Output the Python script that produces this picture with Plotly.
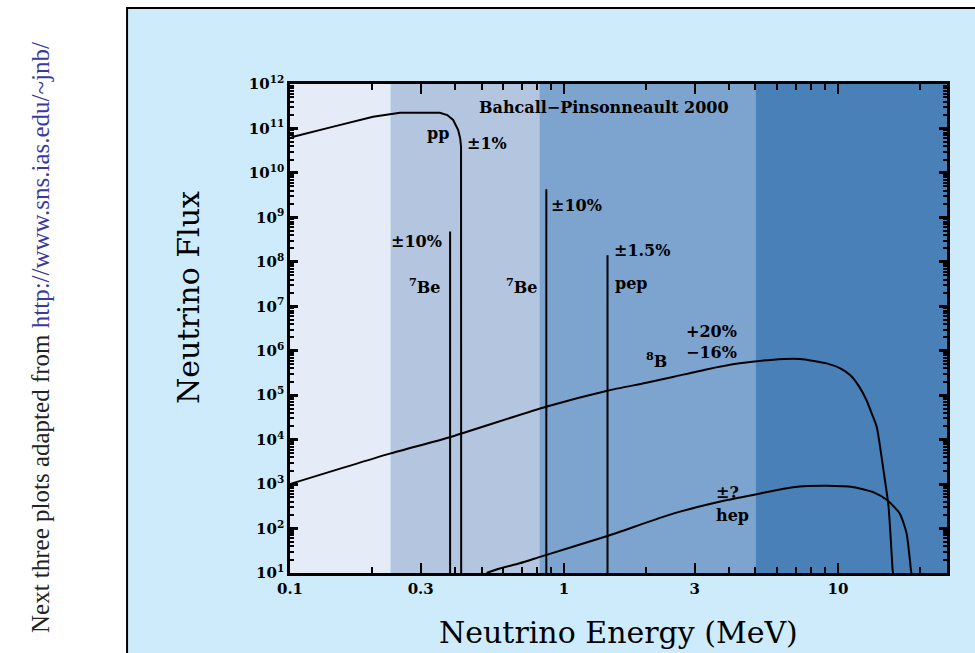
import plotly.graph_objects as go

# ---------------- data ----------------
# detector threshold regions (MeV): Ga, Cl, Super-K
region_edges = [0.1, 0.233, 0.814, 5.0, 25.0]
region_colors = ["#E5ECF7", "#B3C5DF", "#7CA4CF", "#4A80B8"]

# pp continuum
pp_E = [0.1, 0.1028, 0.144, 0.201, 0.252, 0.30, 0.352, 0.375, 0.394, 0.411, 0.418, 0.421, 0.4215]
pp_F = [6.0e10, 6.5e10, 1.10e11, 1.84e11, 2.26e11, 2.30e11, 2.26e11, 2.0e11, 1.55e11, 9.2e10, 6.0e10, 3.9e10, 10]

# 7Be lines (0.384 and 0.862 MeV)
be7_E = [0.384, 0.862]
be7_F = [4.8e8, 4.3e9]

# pep line
pep_E = [1.442]
pep_F = [1.4e8]

# 8B continuum
b8_E = [0.1, 0.233, 0.38, 0.86, 1.44, 2.0, 2.52, 3.31, 4.38, 5.8, 7.26, 9.1, 10.2, 11.1, 12.0, 12.7, 13.3, 13.85, 14.6, 15.3, 15.85, 15.9]
b8_F = [1.0e3, 4.9e3, 1.12e4, 5.5e4, 1.26e5, 1.9e5, 2.6e5, 3.8e5, 5.2e5, 6.3e5, 6.5e5, 5.2e5, 4.0e5, 2.8e5, 1.5e5, 7.8e4, 3.8e4, 1.95e4, 2.45e3, 3.1e2, 11, 10]

# hep continuum
hep_E = [0.522, 0.583, 0.69, 0.824, 1.44, 2.52, 3.94, 5.2, 6.87, 9.1, 11.4, 13.5, 15.1, 16.8, 17.8, 18.5, 18.55]
hep_F = [10, 12.6, 16.6, 23.4, 68, 219, 437, 617, 851, 912, 851, 650, 437, 219, 78, 10.7, 10]

x_tickvals = [0.1, 0.3, 1, 3, 10]
x_ticktext = ["0.1", "0.3", "1", "3", "10"]
y_exponents = list(range(1, 13))

# ---------------- figure ----------------
fig = go.Figure()

line = dict(color="black", width=2)
fig.add_trace(go.Scatter(x=pp_E, y=pp_F, mode="lines", line=line, hoverinfo="skip"))

vx, vy = [], []
for e, f in zip(be7_E + pep_E, be7_F + pep_F):
    vx += [e, e, None]
    vy += [10, f, None]
fig.add_trace(go.Scatter(x=vx, y=vy, mode="lines", line=line, hoverinfo="skip"))
fig.add_trace(go.Scatter(x=b8_E, y=b8_F, mode="lines", line=dict(color="black", width=2, shape="spline", smoothing=0.6), hoverinfo="skip"))
fig.add_trace(go.Scatter(x=hep_E, y=hep_F, mode="lines", line=dict(color="black", width=2, shape="spline", smoothing=0.6), hoverinfo="skip"))

shapes = [
    # light-blue panel with black border
    dict(type="rect", xref="paper", yref="paper", x0=-0.248, x1=1.2, y0=-0.3, y1=1.1554,
         fillcolor="#CDEBFA", line=dict(color="black", width=2), layer="below"),
]
for i, c in enumerate(region_colors):
    shapes.append(dict(type="rect", xref="x", yref="paper",
                       x0=region_edges[i], x1=region_edges[i + 1], y0=0, y1=1,
                       fillcolor=c, line=dict(width=0), layer="below"))

minor_x = []
for d in [0.1, 1, 10]:
    for k in range(2, 10):
        v = k * d
        if v <= 25 and v not in x_tickvals:
            minor_x.append(v)
minor_x.append(20)
minor_y = [k * 10 ** e for e in range(1, 12) for k in range(2, 10)]

tick_font = dict(family="DejaVu Serif", size=15, color="black", weight="bold")

fig.update_layout(
    width=975, height=653,
    margin=dict(l=290, r=28, t=84, b=80),
    paper_bgcolor="white",
    plot_bgcolor="rgba(0,0,0,0)",
    showlegend=False,
    shapes=shapes,
    xaxis=dict(type="log", range=[-1, 1.398], tickmode="array",
               tickvals=x_tickvals, ticktext=x_ticktext,
               ticks="inside", ticklen=10, tickwidth=2, tickcolor="black",
               showline=True, linewidth=2.5, linecolor="black", mirror="ticks",
               showgrid=False, zeroline=False, tickfont=tick_font,
               minor=dict(tickmode="array", tickvals=minor_x, ticks="inside",
                          ticklen=6, tickwidth=2, tickcolor="black", showgrid=False)),
    yaxis=dict(type="log", range=[1, 12], tickmode="array",
               tickvals=[10 ** e for e in y_exponents],
               ticktext=["10<sup>%d</sup>" % e for e in y_exponents],
               ticks="inside", ticklen=8, tickwidth=3, tickcolor="black",
               showline=True, linewidth=2.5, linecolor="black", mirror="ticks",
               showgrid=False, zeroline=False, tickfont=tick_font,
               minor=dict(tickmode="array", tickvals=minor_y, ticks="inside",
                          ticklen=4, tickwidth=1.5, tickcolor="black", showgrid=False)),
)

ann_font = dict(family="DejaVu Serif", size=16, color="black", weight="bold")

def px(xpix):
    return (xpix - 290) / 657.0

def py(ypix):
    return (573 - ypix) / 489.0

labels = [
    ("Bahcall\u2212Pinsonneault 2000", 604, 107),
    ("pp", 438, 133),
    ("\u00b11%", 487, 143),
    ("\u00b110%", 416, 242),
    ("<sup>7</sup>Be", 425, 286),
    ("<sup>7</sup>Be", 522, 286),
    ("\u00b110%", 576, 205),
    ("\u00b11.5%", 642, 250),
    ("pep", 631, 283),
    ("+20%", 711, 331),
    ("\u221216%", 711, 352),
    ("<sup>8</sup>B", 656, 360),
    ("\u00b1?", 727, 492),
    ("hep", 732, 515),
]
for t, x, y in labels:
    fig.add_annotation(text=t, xref="paper", yref="paper", x=px(x), y=py(y),
                       showarrow=False, font=ann_font, xanchor="center", yanchor="middle")

# axis titles
fig.add_annotation(text="Neutrino Energy (MeV)", xref="paper", yref="paper",
                   x=px(618), y=py(632), showarrow=False,
                   font=dict(family="DejaVu Serif", size=30, color="black"),
                   xanchor="center", yanchor="middle")
fig.add_annotation(text="Neutrino Flux", xref="paper", yref="paper",
                   x=px(188), y=py(298), showarrow=False, textangle=-90,
                   font=dict(family="DejaVu Serif", size=30, color="black"),
                   xanchor="center", yanchor="middle")

# side credit
fig.add_annotation(text="Next three plots adapted from <span style='color:#3a3a9e'>http://www.sns.ias.edu/~jnb/</span>",
                   xref="paper", yref="paper", x=px(40), y=py(338), showarrow=False,
                   textangle=-90,
                   font=dict(family="Liberation Serif", size=25, color="#222222"),
                   xanchor="center", yanchor="middle")

fig.write_html("out.html", config={"displayModeBar": False},
               post_script="document.body.style.margin='0';document.body.style.overflow='hidden';")
